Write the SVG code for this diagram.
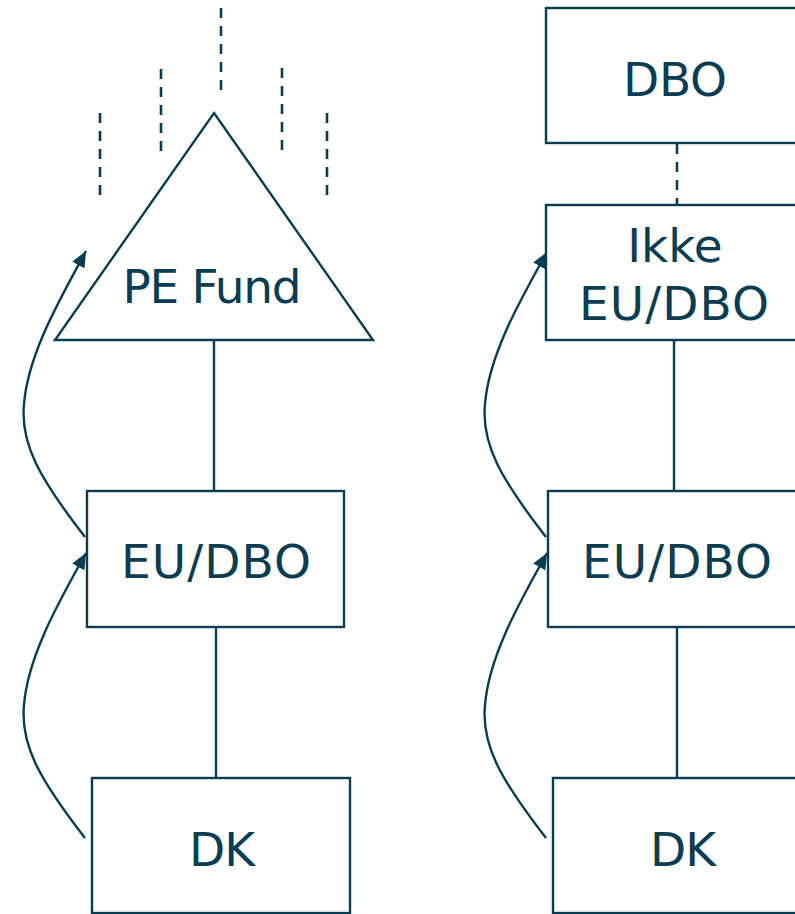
<svg xmlns="http://www.w3.org/2000/svg" width="795" height="914" viewBox="0 0 795 914">
<style>
.shape{fill:#fff;stroke:#0a3d51;stroke-width:2.4}
.ln{fill:none;stroke:#0a3d51;stroke-width:2.4}
.dash{fill:none;stroke:#0a3d51;stroke-width:2.6;stroke-dasharray:10 8}
.t{font-family:"DejaVu Sans","Verdana",sans-serif;font-size:47px;fill:#0a3d51;text-anchor:middle}
</style>
<defs>
<marker id="ah" markerUnits="userSpaceOnUse" markerWidth="18" markerHeight="14" refX="16" refY="7" orient="auto">
<path d="M0,0 L16,7 L0,14 z" fill="#0a3d51"/>
</marker>
</defs>
<rect width="795" height="914" fill="#fff"/>
<g id="connectors">
<line class="ln" x1="214" y1="340" x2="214" y2="491"/>
<line class="ln" x1="216" y1="627" x2="216" y2="778"/>
<line class="ln" x1="674" y1="340" x2="674" y2="491"/>
<line class="ln" x1="677" y1="627" x2="677" y2="778"/>
<line class="dash" x1="677" y1="144" x2="677" y2="205"/>
<line class="dash" x1="100" y1="113" x2="100" y2="199"/>
<line class="dash" x1="161" y1="69" x2="161" y2="155"/>
<line class="dash" x1="221" y1="8" x2="221" y2="94"/>
<line class="dash" x1="282" y1="68" x2="282" y2="154"/>
<line class="dash" x1="327" y1="113" x2="327" y2="199"/>
<path class="ln" d="M85,838 C40,780 20,745 24,705 C28,655 60,600 86,553" marker-end="url(#ah)"/>
<path class="ln" d="M85,537 C40,479 20,444 24,404 C28,354 60,299 86,251" marker-end="url(#ah)"/>
<path class="ln" d="M546,838 C501,780 481,745 485,705 C489,655 521,600 547,553" marker-end="url(#ah)"/>
<path class="ln" d="M546,537 C501,479 481,444 485,404 C489,354 521,299 547,252" marker-end="url(#ah)"/>
</g>
<g id="pe-fund">
<polygon class="shape" points="214,113 373,340 55,340"/>
<text class="t" x="212" y="303" textLength="179" lengthAdjust="spacing">PE Fund</text>
</g>
<g id="eu-dbo-left">
<rect class="shape" x="87" y="491" width="257" height="136"/>
<text class="t" x="216" y="578" textLength="190" lengthAdjust="spacing">EU/DBO</text>
</g>
<g id="dk-left">
<rect class="shape" x="92" y="778" width="258" height="135"/>
<text class="t" x="222" y="866" textLength="66" lengthAdjust="spacing">DK</text>
</g>
<g id="dbo">
<rect class="shape" x="546" y="8" width="260" height="135"/>
<text class="t" x="675" y="96" textLength="104" lengthAdjust="spacing">DBO</text>
</g>
<g id="ikke-eu-dbo">
<rect class="shape" x="546" y="205" width="260" height="135"/>
<text class="t" x="675" y="262">Ikke</text>
<text class="t" x="674" y="320" textLength="190" lengthAdjust="spacing">EU/DBO</text>
</g>
<g id="eu-dbo-right">
<rect class="shape" x="548" y="491" width="260" height="136"/>
<text class="t" x="677" y="578" textLength="190" lengthAdjust="spacing">EU/DBO</text>
</g>
<g id="dk-right">
<rect class="shape" x="553" y="778" width="260" height="135"/>
<text class="t" x="683" y="866" textLength="66" lengthAdjust="spacing">DK</text>
</g>
</svg>
